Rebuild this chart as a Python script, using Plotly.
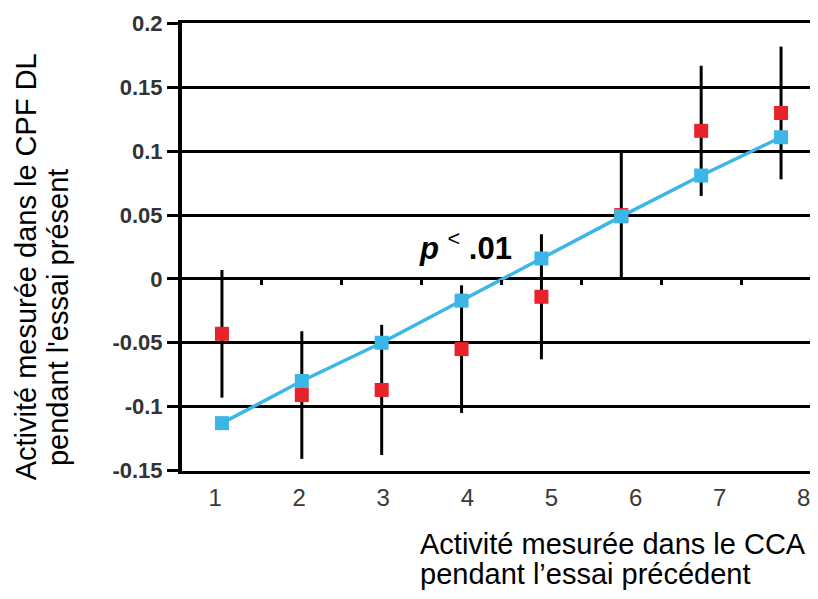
import plotly.graph_objects as go

# Data
x_vals = [1, 2, 3, 4, 5, 6, 7, 8]
tick_labels = ["1", "2", "3", "4", "5", "6", "7", "8"]
red_vals = [-0.043, -0.091, -0.087, -0.055, -0.014, 0.05, 0.116, 0.130]
red_err = [0.050, 0.050, 0.051, 0.050, 0.049, 0.05, 0.051, 0.052]
blue_vals = [-0.113, -0.080, -0.050, -0.017, 0.016, 0.049, 0.081, 0.111]
y_tickvals = [-0.15, -0.1, -0.05, 0, 0.05, 0.1, 0.15, 0.2]
y_ticktext = ["-0.15", "-0.1", "-0.05", "0", "0.05", "0.1", "0.15", "0.2"]
mid_ticks = [1.5, 2.5, 3.5, 4.5, 5.5, 6.5, 7.5]

FONT = "Liberation Sans, Arial, sans-serif"

# plot area in page pixels (page body has an 8px margin)
L, R, T, B = 182, 813, 20, 471
W, H = 808, 583
Y_RANGE = [-0.1505, 0.2005]
X_RANGE = [0.5, 8.40]


def px(xp):
    return (xp - L) / (R - L)


def py(yp):
    return (B - yp) / (B - T)


fig = go.Figure()

fig.add_trace(go.Scatter(
    x=x_vals, y=red_vals, mode="markers",
    marker=dict(symbol="square", size=14, color="#e8222a"),
    error_y=dict(type="data", array=red_err, visible=True,
                 color="black", thickness=3, width=0),
    showlegend=False, hoverinfo="skip",
))
fig.add_trace(go.Scatter(
    x=x_vals, y=blue_vals, mode="lines+markers",
    line=dict(color="#3cb6e6", width=3.5),
    marker=dict(symbol="square", size=14, color="#3cb6e6"),
    showlegend=False, hoverinfo="skip",
))
# traces for the auxiliary axes (no visible marks)
for xa, ya in [("x2", "y"), ("x3", "y"), ("x4", "y2")]:
    fig.add_trace(go.Scatter(x=[1], y=[0], xaxis=xa, yaxis=ya, mode="markers",
                             marker=dict(size=1, opacity=0),
                             showlegend=False, hoverinfo="skip"))

fig.update_layout(
    width=W, height=H,
    margin=dict(l=L - 8, r=W + 8 - R, t=T - 8, b=H + 8 - B),
    plot_bgcolor="white", paper_bgcolor="white",
    font=dict(family=FONT, color="black"),
    xaxis=dict(
        range=X_RANGE, showgrid=False, zeroline=False,
        showticklabels=False, ticks="",
        showline=True, linecolor="black", linewidth=3,
    ),
    xaxis2=dict(
        overlaying="x", anchor="y", side="bottom",
        range=[0.607, 8.11], showgrid=False, zeroline=False,
        tickvals=x_vals, ticktext=tick_labels, ticks="",
        ticklabelstandoff=10,
        tickfont=dict(size=24, color="#3a3a3a", family=FONT),
        showline=False,
    ),
    xaxis3=dict(
        overlaying="x", anchor="free", position=0.1505 / 0.351, side="bottom",
        range=X_RANGE, showgrid=False, zeroline=False,
        tickvals=mid_ticks, ticks="outside", ticklen=5, tickwidth=3,
        tickcolor="black", showticklabels=False, showline=False,
    ),
    xaxis4=dict(
        overlaying="x", anchor="y2", side="top",
        range=X_RANGE, showgrid=False, zeroline=False,
        showticklabels=False, ticks="",
        showline=True, linecolor="black", linewidth=3,
    ),
    yaxis=dict(
        range=Y_RANGE, tickvals=y_tickvals, ticktext=y_ticktext,
        showgrid=True, gridcolor="black", gridwidth=3,
        zeroline=False,
        showline=True, linecolor="black", linewidth=4,
        ticks="outside", ticklen=11, tickwidth=3, tickcolor="black",
        tickfont=dict(size=22, color="#333333", family=FONT, weight="bold"),
    ),
    yaxis2=dict(
        overlaying="y", anchor="x4", side="right",
        range=[-0.15, 0.2], showgrid=False, zeroline=False,
        showticklabels=False, ticks="",
        showline=True, linecolor="black", linewidth=3,
    ),
    annotations=[
        dict(x=4.05, y=0.0256, xref="x", yref="y", showarrow=False,
             text="<b><i>p</i></b> <sup>&lt;</sup> <b>.01</b>",
             font=dict(size=31, color="black", family=FONT)),
        dict(x=px(26), y=py(266), xref="paper", yref="paper", showarrow=False,
             textangle=-90, xanchor="center", yanchor="middle",
             text="Activité mesurée dans le CPF DL",
             font=dict(size=29, color="black", family=FONT)),
        dict(x=px(58), y=py(317), xref="paper", yref="paper", showarrow=False,
             textangle=-90, xanchor="center", yanchor="middle",
             text="pendant l'essai présent",
             font=dict(size=29, color="black", family=FONT)),
        dict(x=px(418), y=py(544), xref="paper", yref="paper",
             xanchor="left", yanchor="middle", showarrow=False, align="left",
             text="Activité mesurée dans le CCA",
             font=dict(size=29, color="black", family=FONT)),
        dict(x=px(418), y=py(575), xref="paper", yref="paper",
             xanchor="left", yanchor="middle", showarrow=False, align="left",
             text="pendant l’essai précédent",
             font=dict(size=29, color="black", family=FONT)),
    ],
)

fig.write_html("out.html")
